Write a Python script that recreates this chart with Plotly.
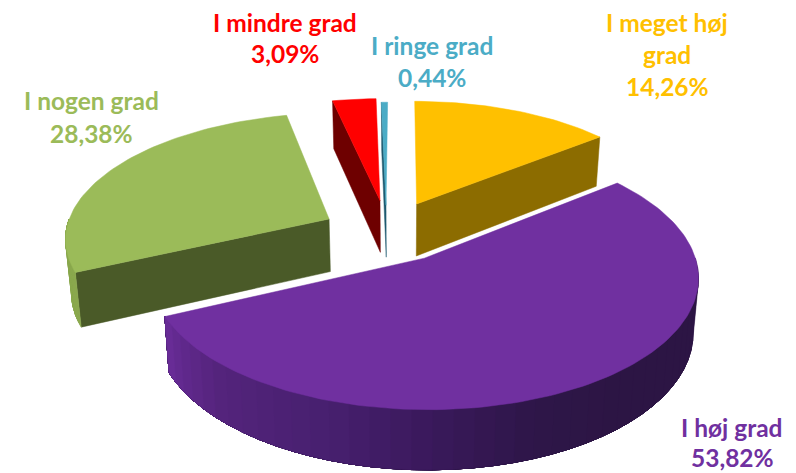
import numpy as np
import plotly.graph_objects as go

# ---- data ----
names = ["I meget høj grad", "I høj grad", "I nogen grad", "I mindre grad", "I ringe grad"]
values = [14.26, 53.82, 28.38, 3.09, 0.44]

# ---- styles ----
top_colors = ["#FFC000", "#7030A0", "#9BBB59", "#FF0000", "#4BACC6"]
face_colors = ["#8C6C00", None, "#4A5A28", "#6E0000", "#1F5A70"]
text_colors = ["#FFC000", "#7030A0", "#9BBB59", "#FF0000", "#4BACC6"]
offsets = [(0.065, 0.22), (0.09, -0.22), (-0.273, 0.093), (-0.0786, 0.25), (-0.0547, 0.21)]
label_lines = [["I meget høj", "grad"], ["I høj grad"], ["I nogen grad"], ["I mindre grad"], ["I ringe grad"]]
label_pos = [(667, 22, 32), (732, 427, 30), (91, 100, 33), (285, 22, 31), (432, 45, 32)]
# shading of the curved side, by angle round the pie (degrees, colour)
arc_stops = {
    1: ([90, 140, 160, 180, 200, 225, 240, 246],
        [(44, 21, 68), (44, 21, 68), (46, 22, 72), (58, 25, 92), (72, 32, 112),
         (85, 36, 125), (100, 42, 145), (108, 46, 155)]),
    2: ([245, 270], [(139, 168, 78), (139, 168, 78)]),
}

CX, CY, A, B, K, H, S = 400.0, 230.3, 263.0, 123.0, 0.134, 53.0, 0.982


def top(u, v):
    w = 1 + K * v
    return CX + A * u / w, CY - B * v / w


def bottom(u, v):
    w = 1 + K * v
    x, y = top(u, v)
    return CX + (x - CX) * S, CY + (y - CY) * S + H / w


def rim(off, th):
    return off[0] + np.sin(th), off[1] + np.cos(th)


fig = go.Figure()


def poly(xs, ys, color, width=0.5):
    xs, ys = list(xs), list(ys)
    fig.add_trace(go.Scatter(
        x=xs + xs[:1], y=ys + ys[:1], mode="lines", fill="toself", fillcolor=color,
        line=dict(color=color, width=width), hoverinfo="skip", showlegend=False))


def rgb(c):
    return "rgb(%d,%d,%d)" % tuple(int(round(t)) for t in c)


total = sum(values)
edges = np.cumsum([0] + values) / total * 2 * np.pi
slices = []
for i in range(len(values)):
    slices.append((i, edges[i], edges[i + 1]))

# paint order: far slices first, the large near slice last
for i, a0, a1 in [slices[j] for j in (0, 3, 4, 2, 1)]:
    off = offsets[i]
    # straight cut face toward the viewer
    if face_colors[i] is not None:
        th = a1 if i == 0 else a0
        u, v = rim(off, th)
        p = [top(*off), top(u, v)]
        q = [bottom(u, v), bottom(*off)]
        poly([t[0] for t in p + q], [t[1] for t in p + q], face_colors[i])
    # curved outer side: each band runs on to the end of the arc and is
    # overpainted by the next one, so no seams can show
    if i in arc_stops:
        lo = max(a0, np.pi / 2)
        hi = min(a1, 3 * np.pi / 2)
        ts = np.linspace(lo, hi, 41)
        deg, cols = arc_stops[i]
        for k in range(len(ts) - 1):
            mid = np.degrees((ts[k] + ts[k + 1]) / 2)
            col = [np.interp(mid, deg, [c[n] for c in cols]) for n in range(3)]
            sub = ts[k:]
            up = [top(*rim(off, t)) for t in sub]
            dn = [bottom(*rim(off, t)) for t in sub[::-1]]
            pts = up + dn
            poly([t[0] for t in pts], [t[1] for t in pts], rgb(col))
    # top face
    ts = np.linspace(a0, a1, max(3, int((a1 - a0) * 40)))
    pts = [top(*off)] + [top(*rim(off, t)) for t in ts]
    poly([t[0] for t in pts], [t[1] for t in pts], top_colors[i])

annotations = []
for i, (lines, pos) in enumerate(zip(label_lines, label_pos)):
    x, y, dy = pos
    all_lines = lines + [f"{values[i]:.2f}".replace(".", ",") + "%"]
    for n, line in enumerate(all_lines):
        annotations.append(dict(
            x=x, y=y + n * dy, xref="x", yref="y", text=line, showarrow=False,
            xanchor="center", yanchor="middle",
            font=dict(family="Lato", size=24.5, color=text_colors[i], weight="bold")))

fig.update_layout(
    width=796, height=473, margin=dict(l=0, r=0, t=0, b=0),
    paper_bgcolor="white", plot_bgcolor="white", showlegend=False,
    xaxis=dict(range=[0, 796], visible=False, fixedrange=True),
    yaxis=dict(range=[473, 0], visible=False, fixedrange=True),
    annotations=annotations)
fig.write_html("out.html", config=dict(displayModeBar=False),
               post_script="document.body.style.margin='0';document.documentElement.style.overflow='hidden';")
